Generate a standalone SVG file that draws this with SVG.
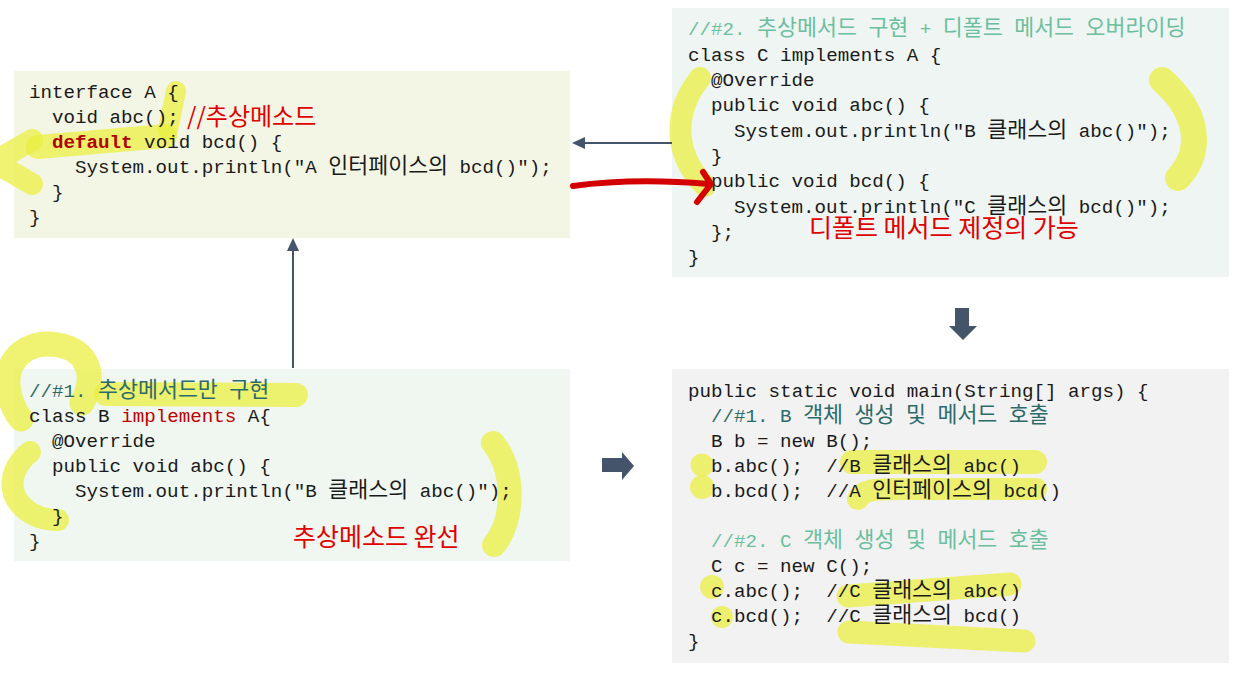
<svg xmlns="http://www.w3.org/2000/svg" width="1246" height="677" viewBox="0 0 1246 677">
<defs>
<style>
.code{font-family:"Liberation Mono","Noto Sans CJK KR",monospace;font-size:19.2px;fill:#1a1a1a;white-space:pre}
.k{font-family:"Noto Sans CJK KR","Liberation Sans",sans-serif;font-size:21.7px}
.kw{fill:#b00000;font-weight:bold}
.impl{fill:#c00000}
.cm1{fill:#2d6a6a}
.cm2{fill:#6bbf9e}
.note{font-family:"Noto Sans CJK KR","Liberation Sans",sans-serif;font-size:25px;fill:#e00000}
.hl{fill:none;stroke:#eaee3c;stroke-opacity:.72;stroke-linecap:round;stroke-linejoin:round;stroke-width:22}
.dot{fill:#eaee3c;fill-opacity:.72}
.conn{stroke:#44546a;stroke-width:2;fill:none}
.head{fill:#44546a}
.red{fill:none;stroke:#d40000;stroke-width:6;stroke-linecap:round;stroke-linejoin:round}
</style>
</defs>
<rect width="1246" height="677" fill="#ffffff"/>

<g id="interfaceA">
<rect x="14" y="71" width="556" height="167" fill="#f4f6e5"/>
<path class="hl" d="M176,91 L168,130" style="stroke-width:20"/>
<path class="hl" d="M38,147 L165,136" style="stroke-width:24"/>
<path class="hl" d="M32,140 L-6,162 L32,184"/>
<text class="code" x="29" y="98">interface A {</text>
<text class="code" x="52" y="123">void abc();</text>
<text class="note" x="187" y="125" style="font-size:24px">//추상메소드</text>
<text class="code" x="52" y="148"><tspan class="kw">default</tspan> void bcd() {</text>
<text class="code" x="75" y="173">System.out.println("A <tspan class="k">인터페이스의</tspan> bcd()");</text>
<text class="code" x="52" y="198">}</text>
<text class="code" x="29" y="223">}</text>
</g>

<g id="classC">
<rect x="672" y="8" width="557" height="269" fill="#eff5f2"/>
<path class="hl" d="M700,78 C676,108 670,150 705,186"/>
<path class="hl" d="M1162,80 C1198,112 1204,150 1178,178" style="stroke-width:26"/>
<text class="code cm2" x="688" y="35">//#2. <tspan class="k">추상메서드</tspan> <tspan class="k">구현</tspan> + <tspan class="k">디폴트</tspan> <tspan class="k">메서드</tspan> <tspan class="k">오버라이딩</tspan></text>
<text class="code" x="688" y="60.5">class C implements A {</text>
<text class="code" x="711" y="86">@Override</text>
<text class="code" x="711" y="111">public void abc() {</text>
<text class="code" x="734" y="136.5">System.out.println("B <tspan class="k">클래스의</tspan> abc()");</text>
<text class="code" x="711" y="162">}</text>
<text class="code" x="711" y="187">public void bcd() {</text>
<text class="code" x="734" y="212.5">System.out.println("C <tspan class="k">클래스의</tspan> bcd()");</text>
<text class="code" x="711" y="238">};</text>
<text class="code" x="688" y="263">}</text>
<text class="note" x="809" y="237">디폴트 메서드 제정의 가능</text>
</g>

<g id="classB">
<rect x="14" y="369" width="556" height="192" fill="#eff7f0"/>
<path class="hl" d="M82,403 C98,374 86,349 58,345 C28,340 6,358 8,385 C10,404 16,413 21,419" style="stroke-width:25"/>
<path class="hl" d="M106,394 L296,395" style="stroke-width:24"/>
<path class="hl" d="M30,452 C10,468 6,492 24,508 C34,517 46,520 58,520"/>
<path class="hl" d="M493,443 C515,470 515,520 494,545" style="stroke-width:24"/>
<text class="code cm1" x="29" y="397">//#1. <tspan class="k">추상메서드만</tspan> <tspan class="k">구현</tspan></text>
<text class="code" x="29" y="422">class B <tspan class="impl">implements</tspan> A{</text>
<text class="code" x="52" y="447">@Override</text>
<text class="code" x="52" y="472">public void abc() {</text>
<text class="code" x="75" y="497">System.out.println("B <tspan class="k">클래스의</tspan> abc()");</text>
<text class="code" x="52" y="522">}</text>
<text class="code" x="29" y="547">}</text>
<text class="note" x="293" y="546">추상메소드 완선</text>
</g>

<g id="mainMethod">
<rect x="672" y="369" width="557" height="294" fill="#f2f2f2"/>
<circle class="dot" cx="702" cy="465" r="11.5"/>
<circle class="dot" cx="702" cy="487" r="12"/>
<circle class="dot" cx="712" cy="587" r="12"/>
<circle class="dot" cx="722" cy="617" r="11"/>
<path class="hl" d="M852,462 L1035,462" style="stroke-width:24"/>
<path class="hl" d="M858,499 C862,490 875,489 900,489 L1036,489"/>
<path class="hl" d="M848,596 L1010,584" style="stroke-width:23"/>
<path class="hl" d="M849,632 L1024,641" style="stroke-width:23"/>
<text class="code" x="688" y="397">public static void main(String[] args) {</text>
<text class="code cm1" x="711" y="422">//#1. B <tspan class="k">객체</tspan> <tspan class="k">생성</tspan> <tspan class="k">및</tspan> <tspan class="k">메서드</tspan> <tspan class="k">호출</tspan></text>
<text class="code" x="711" y="447">B b = new B();</text>
<text class="code" x="711" y="472" xml:space="preserve">b.abc();  //B <tspan class="k">클래스의</tspan> abc()</text>
<text class="code" x="711" y="497" xml:space="preserve">b.bcd();  //A <tspan class="k">인터페이스의</tspan> bcd()</text>
<text class="code cm2" x="711" y="547">//#2. C <tspan class="k">객체</tspan> <tspan class="k">생성</tspan> <tspan class="k">및</tspan> <tspan class="k">메서드</tspan> <tspan class="k">호출</tspan></text>
<text class="code" x="711" y="572">C c = new C();</text>
<text class="code" x="711" y="597" xml:space="preserve">c.abc();  //C <tspan class="k">클래스의</tspan> abc()</text>
<text class="code" x="711" y="622" xml:space="preserve">c.bcd();  //C <tspan class="k">클래스의</tspan> bcd()</text>
<text class="code" x="688" y="647">}</text>
</g>

<g id="connectors">
<line class="conn" x1="672" y1="143" x2="583" y2="143"/>
<polygon class="head" points="572,143 585,137 585,149"/>
<line class="conn" x1="293" y1="368" x2="293" y2="249"/>
<polygon class="head" points="293,238 287,251 299,251"/>
<path class="red" d="M573,186 C610,181 660,180 709,184"/>
<path class="red" d="M703,172 L711,184 L697,202"/>
<polygon class="head" points="955,308 969,308 969,326 977,326 963,340 949,326 955,326"/>
<polygon class="head" points="602,458 622,458 622,452 634,466 622,480 622,472 602,472"/>
</g>
</svg>
